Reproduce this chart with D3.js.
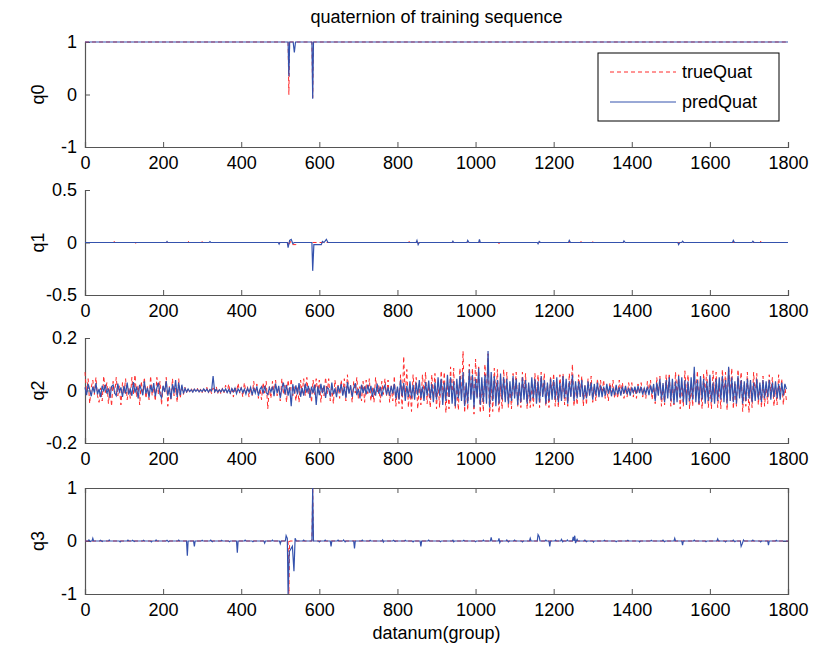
<!DOCTYPE html>
<html><head><meta charset="utf-8">
<script src="https://cdn.jsdelivr.net/npm/d3@7"></script>
<style>body{margin:0;background:#fff}svg{display:block}text{font-family:Arial,"Liberation Sans",sans-serif}</style>
</head><body>
<svg id="c" width="813" height="652"></svg>
<script>
// ---------- data ----------
const xTicks = [0,200,400,600,800,1000,1200,1400,1600,1800];
const panelNames = ["q0","q1","q2","q3"];
const yTicks = [[-1,0,1],[-0.5,0,0.5],[-0.2,0,0.2],[-1,0,1]];
const yTickLabels = [["-1","0","1"],["-0.5","0","0.5"],["-0.2","0","0.2"],["-1","0","1"]];
const legendLabels = ["trueQuat","predQuat"];

// sparse series: [index, value]
const q0True = [[0,1],[520,1],[522,0],[524,1],[581,1],[583,-0.06],[585,1],[1800,1]];
const q0Pred = [[0,1],[520,1],[522,0.35],[524,1],[533,1],[536,0.8],[539,1],[581,1],[583,-0.08],[585,1],[1800,1]];

const q1True = [[0,0],[74,0],[75,0.01],[76,0],[129,0],[130,-0.012],[131,0],[264,0],[265,0.01],[266,0],[299,0],[300,0.01],[301,0],[389,0],[390,-0.01],[391,0],[439,0],[440,0.01],[441,0],[520,0],[522,-0.03],[526,0.01],[530,-0.02],[540,-0.02],[545,0],[809,0],[810,0.01],[811,0],[829,0],[830,0.01],[831,0],[1059,0],[1060,-0.012],[1061,0],[1269,0],[1270,0.01],[1271,0],[1299,0],[1300,0.01],[1301,0],[1729,0],[1730,0.012],[1731,0],[1800,0]];
const q1Pred = [[0,0],[208,0],[210,0.01],[212,0],[318,0],[320,0.008],[322,0],[495,0],[497,-0.015],[499,0],[518,0],[520,-0.05],[524,0.02],[528,0.03],[532,-0.01],[536,0],[581,0],[583,-0.27],[586,-0.02],[605,-0.02],[608,0.01],[612,0],[618,0.03],[622,0],[848,0],[850,0.02],[853,-0.02],[856,0],[940,0],[942,0.012],[944,0],[978,0],[980,0.02],[983,0],[1008,0],[1010,0.03],[1012,0],[1158,0],[1160,-0.012],[1163,0.01],[1166,0],[1238,0],[1240,0.02],[1243,0],[1378,0],[1380,0.015],[1383,0],[1518,0],[1520,-0.02],[1523,0],[1528,0],[1530,0.012],[1533,0],[1658,0],[1660,0.02],[1663,0],[1708,0],[1710,0.012],[1713,0],[1800,0]];

// dense q2 series, one value every 4 indices starting at 0
const q2Step = 4;
const q2True = [
.07,-.01,.045,-.05,.012,.04,-.015,.05,-.02,-.045,.01,-.04,.055,-.008,.03,
-.05,.015,-.06,.035,-.012,.05,-.02,.018,-.055,.03,-.01,.045,-.035,.012,-.03,
.05,-.015,.06,-.025,.02,-.055,.035,-.01,.05,-.03,.015,-.035,.055,-.02,.012,
-.04,.05,-.015,.035,-.055,.02,-.01,.05,-.06,.015,-.035,.045,-.02,.01,-.045,
.045,-.03,.02,-.015,.012,-.01,.008,-.006,.01,-.008,.006,-.005,.008,-.01,.006,
-.008,.01,-.006,.012,-.01,.008,-.012,.01,-.008,.015,-.012,.008,-.014,.01,-.008,
.02,-.008,.025,-.012,.01,-.025,.015,-.006,.028,-.01,.012,-.025,.03,-.008,.015,
-.025,.01,-.02,.035,-.012,.025,-.03,.008,-.035,.03,-.01,.035,-.07,.015,-.03,
.035,-.012,.04,-.02,.01,-.04,.045,-.015,.02,-.045,.04,-.01,.045,-.02,.015,
-.04,.015,-.045,.04,-.01,.045,-.02,.05,-.015,.012,-.045,.04,-.015,.045,-.01,
.04,-.045,.015,-.02,.05,-.012,.045,-.04,.01,-.05,.04,-.015,.02,-.03,.04,
-.015,.045,-.04,.06,-.012,.02,-.045,.035,-.01,.05,-.03,.015,-.04,.035,-.045,
.04,-.012,.045,-.04,.015,-.045,.05,-.01,.02,-.045,.035,-.015,.045,-.02,.04,
-.045,.02,-.04,.055,-.06,.015,-.05,.06,-.07,.13,-.02,.08,-.065,.015,-.08,
.06,-.02,.05,-.07,.025,-.055,.06,-.015,.07,-.05,.02,-.065,.06,-.025,.065,
-.07,.03,-.065,.075,-.02,.07,-.085,.025,-.07,.09,-.03,.085,-.07,.02,-.075,
.085,-.03,.15,-.085,.025,-.075,.1,-.02,.085,-.09,.12,-.03,.09,-.085,.025,
-.08,.1,-.02,.14,-.1,.03,-.08,.085,-.025,.08,-.085,.02,-.07,.08,-.03,
.07,-.065,.02,-.07,.065,-.025,.07,-.06,.02,-.065,.07,-.015,.065,-.07,.02,
-.065,.02,-.06,.065,-.025,.06,-.065,.07,-.02,.065,-.06,.025,-.065,.055,-.02,
.065,-.06,.02,-.065,.06,-.025,.065,-.055,.02,-.06,.065,-.02,.1,-.06,.025,
-.055,.06,-.015,.055,-.06,.02,-.055,.045,-.015,.055,-.045,.015,-.04,.045,-.015,
.04,-.01,.04,-.03,.012,-.04,.03,-.01,.04,-.03,.01,-.03,.04,-.012,.03,
-.03,.01,-.025,.03,-.01,.03,-.025,.012,-.03,.025,-.01,.03,-.025,.01,-.03,
.035,-.01,.04,-.035,.015,-.05,.05,-.015,.055,-.06,.02,-.055,.06,-.02,.065,
-.06,.02,-.055,.07,-.02,.06,-.07,.025,-.06,.075,-.02,.06,-.07,.02,-.06,
.07,-.02,.075,-.06,.025,-.07,.065,-.02,.08,-.065,.025,-.07,.075,-.02,.07,
-.065,.02,-.07,.08,-.025,.07,-.075,.09,-.02,.085,-.07,.025,-.06,.08,-.02,
.07,-.08,.02,-.06,.07,-.085,.025,-.065,.07,-.02,.065,-.055,.02,-.065,.055,
-.06,.02,-.05,.06,-.015,.05,-.06,.015,-.055,.06,-.02,.045,-.055,.02,-.04];
const q2Pred = [
.012,-.018,.025,.004,-.022,.015,-.008,.028,-.015,.006,-.025,.018,-.004,.022,-.012,
.008,-.028,.015,.021,-.01,-.02,.026,-.005,.012,-.024,.018,-.012,.03,-.016,.005,
-.02,.032,-.008,.015,-.03,.022,.004,-.018,.035,-.012,.01,-.026,.02,-.006,.028,
-.022,.01,.03,-.015,-.028,.018,-.005,.036,-.02,.012,-.032,.024,-.01,.04,-.025,
.03,-.018,.022,-.012,.008,-.005,.006,-.004,.003,-.006,.005,-.003,.004,-.005,.002,
-.004,.006,-.003,.005,-.006,.004,-.002,.055,-.005,.004,-.006,.003,-.005,.006,-.004,
.006,-.008,.004,-.01,.007,-.005,.009,-.012,.006,-.004,.01,-.008,.005,-.014,.008,
-.006,.012,-.018,.008,-.01,.016,-.02,.005,.014,-.012,.018,-.008,-.016,.01,-.005,
.015,-.022,.026,-.01,.018,-.028,.008,.03,-.015,.022,-.02,.012,-.06,.024,-.012,
.02,-.015,.028,-.024,.01,-.02,.026,-.008,.018,-.028,.015,-.01,.022,-.055,.016,
-.018,.025,-.01,.02,-.028,.012,.006,-.022,.03,-.015,.008,-.025,.018,-.006,.024,
-.02,.015,-.028,.032,-.012,.02,-.024,.01,.028,-.018,.006,-.03,.022,-.01,.016,
-.015,.022,-.008,.018,-.024,.01,-.02,.026,-.012,.015,-.022,.008,.02,-.016,.012,
-.02,.018,-.012,.025,-.03,.015,-.035,.04,-.022,.028,-.04,.018,-.025,.035,-.03,
.022,-.035,.03,-.018,.04,-.028,.015,-.04,.032,-.02,.038,-.03,.025,-.045,.03,
-.035,.05,-.02,.045,-.055,.03,-.04,.06,-.025,.05,-.05,.035,-.06,.045,-.03,
.055,-.04,.07,-.06,.03,-.05,.08,-.035,.06,-.065,.045,-.03,.085,-.055,.05,
-.045,.06,-.05,.15,-.065,.07,-.04,.055,-.06,.04,-.05,.065,-.035,.05,-.045,
.045,-.05,.035,-.04,.055,-.03,.045,-.055,.03,-.045,.05,-.035,.04,-.05,.03,
-.04,.05,-.03,.045,-.05,.035,-.045,.055,-.025,.04,-.05,.03,-.04,.045,-.035,
.04,-.035,.05,-.045,.03,-.04,.055,-.03,.045,-.05,.035,-.025,.06,-.04,.035,
-.03,.035,-.025,.04,-.035,.02,-.03,.035,-.02,.03,-.035,.025,-.02,.03,-.025,
.02,-.025,.015,-.02,.025,-.012,.018,-.022,.01,-.018,.022,-.015,.012,-.02,.015,
-.012,.018,-.015,.01,-.02,.012,-.008,.015,-.012,.018,-.01,.014,-.016,.008,-.012,
.015,-.018,.02,-.012,.025,-.04,.03,-.02,.045,-.035,.028,-.045,.04,-.03,.05,
-.04,.045,-.05,.035,-.045,.055,-.03,.05,-.045,.04,-.055,.035,-.04,.05,-.035,
.09,-.045,.04,-.05,.055,-.035,.045,-.05,.035,-.04,.06,-.045,.03,-.05,.045,
-.04,.05,-.035,.055,-.045,.04,-.05,.09,-.04,.05,-.045,.035,-.05,.055,-.03,
.04,-.05,.035,-.04,.045,-.03,.04,-.045,.03,-.04,.045,-.035,.03,-.045,.04,
-.03,.035,-.025,.04,-.035,.03,-.025,.035,-.03,.025,-.035,.03,-.02,.025,.005];

const q3True = [[0,0],[520,0],[522,-1],[524,0],[581,0],[583,1],[585,0],[1800,0]];
const q3Pred = [[0,0],[8,0],[10,0.02],[14,-0.01],[16,0],[18,0],[20,0.05],[22,0],[38,0],[40,0.015],[44,-0.01],[46,0],[60,0],[62,0.02],[64,0],[88,0],[90,-0.015],[92,0],[108,0],[110,0.015],[112,0],[120,0],[122,0.015],[126,-0.01],[128,0],[148,0],[150,0.012],[152,0],[168,0],[170,-0.015],[172,0],[180,0],[182,0.02],[184,0],[208,0],[210,0.012],[214,-0.012],[216,0],[238,0],[240,0.015],[242,0],[260,0],[262,-0.28],[264,0],[278,0],[280,-0.1],[282,0],[298,0],[300,0.012],[302,0],[320,0],[322,0.015],[326,-0.012],[328,0],[348,0],[350,0.012],[352,0],[368,0],[370,-0.012],[372,0],[388,0],[390,-0.22],[392,0],[408,0],[410,0.015],[412,0],[428,0],[430,-0.012],[432,0],[458,0],[460,-0.04],[462,0],[478,0],[480,0.015],[482,0],[498,0],[500,-0.05],[502,0],[513,0],[515,0.1],[518,0.05],[520,-1],[523,-0.2],[527,-0.15],[531,-0.1],[535,-0.57],[538,0.05],[541,0],[558,0],[560,0.015],[562,0],[581,0],[583,1],[585,0],[598,0],[600,-0.015],[602,0],[613,0],[615,0.015],[617,0],[628,0],[630,-0.1],[632,0],[646,0],[648,0.015],[650,0],[660,0],[662,0.02],[666,-0.015],[668,0],[688,0],[690,-0.14],[692,0],[708,0],[710,0.015],[712,0],[728,0],[730,0.012],[732,0],[760,0],[762,0.02],[764,-0.02],[766,0],[788,0],[790,0.015],[794,-0.01],[796,0],[818,0],[820,0.012],[822,0],[838,0],[840,-0.015],[842,0],[858,0],[860,-0.1],[862,0],[878,0],[880,0.015],[882,0],[908,0],[910,-0.012],[912,0],[940,0],[942,0.015],[944,-0.015],[946,0],[968,0],[970,0.012],[972,0],[998,0],[1000,-0.012],[1002,0],[1018,0],[1020,0.015],[1022,0],[1038,0],[1040,0.07],[1042,0],[1058,0],[1060,0.05],[1062,-0.03],[1064,0],[1078,0],[1080,0.02],[1084,-0.015],[1086,0],[1098,0],[1100,0.015],[1102,0],[1118,0],[1120,-0.015],[1122,0],[1138,0],[1140,0.05],[1142,0],[1158,0],[1160,0.12],[1163,0.08],[1165,0],[1178,0],[1180,0.015],[1182,0],[1188,0],[1190,-0.1],[1192,0],[1203,0],[1205,0.015],[1207,0],[1218,0],[1220,0.03],[1223,-0.015],[1225,0],[1233,0],[1235,0.02],[1237,0],[1248,0],[1250,0.08],[1252,0],[1254,0.1],[1256,-0.04],[1258,0],[1260,0.03],[1262,0],[1278,0],[1280,0.015],[1284,-0.012],[1286,0],[1300,0],[1302,-0.02],[1304,0],[1328,0],[1330,0.012],[1332,0],[1358,0],[1360,-0.012],[1362,0],[1388,0],[1390,0.012],[1392,0],[1418,0],[1420,-0.015],[1422,0],[1448,0],[1450,0.012],[1452,0],[1478,0],[1480,0.015],[1484,-0.012],[1486,0],[1508,0],[1510,0.05],[1512,0],[1528,0],[1530,-0.08],[1532,0],[1558,0],[1560,0.015],[1562,0],[1588,0],[1590,-0.012],[1592,0],[1618,0],[1620,0.04],[1622,0],[1638,0],[1640,-0.015],[1642,0],[1658,0],[1660,0.015],[1664,-0.012],[1666,0],[1678,0],[1680,-0.1],[1683,-0.05],[1686,0.02],[1688,0],[1708,0],[1710,0.015],[1712,0],[1728,0],[1730,-0.015],[1732,0],[1748,0],[1750,-0.08],[1752,0],[1768,0],[1770,0.012],[1772,0],[1800,0]];

// ---------- layout ----------
const svg = d3.select("#c");
const X0 = 85, X1 = 788;
const panels = [{top:42,bottom:147},{top:190,bottom:295},{top:338,bottom:443},{top:488,bottom:594}];
const domains = [[-1,1],[-0.5,0.5],[-0.2,0.2],[-1,1]];
const RED = "#ff2a2a", BLUE = "#3452ad", AXC = "#555";
const FS = 18;
const x = d3.scaleLinear().domain([0,1800]).range([X0,X1]);

const q2TrueP = q2True.map((v,i)=>[i*q2Step,v]);
const q2PredP = q2Pred.map((v,i)=>[i*q2Step,v]);
const seriesTrue = [q0True,q1True,q2TrueP,q3True];
const seriesPred = [q0Pred,q1Pred,q2PredP,q3Pred];

panels.forEach((p,k)=>{
  const y = d3.scaleLinear().domain(domains[k]).range([p.bottom,p.top]);
  const g = svg.append("g");
  const line = d3.line().x(d=>x(d[0])).y(d=>y(Math.max(domains[k][0],Math.min(domains[k][1],d[1]))));
  const xa = d3.axisBottom(x).tickValues(xTicks).tickSize(-5).tickPadding(9).tickFormat(d3.format("d"));
  const gx = g.append("g").attr("transform",`translate(0,${p.bottom})`).call(xa);
  const ya = d3.axisLeft(y).tickValues(yTicks[k]).tickSize(-5).tickPadding(8).tickFormat((d,i)=>yTickLabels[k][i]);
  const gy = g.append("g").attr("transform",`translate(${X0},0)`).call(ya);
  [gx,gy].forEach(a=>{
    a.select(".domain").attr("stroke",AXC).attr("stroke-width",1.2);
    a.selectAll(".tick line").attr("stroke",AXC);
    a.selectAll("text").attr("font-size",FS).attr("fill","#000");
  });
  if(k===3){
    const xt = d3.axisTop(x).tickValues(xTicks).tickSize(-5).tickFormat("");
    const gt = g.append("g").attr("transform",`translate(0,${p.top})`).call(xt);
    const yr = d3.axisRight(y).tickValues(yTicks[k]).tickSize(-5).tickFormat("");
    const gr = g.append("g").attr("transform",`translate(${X1},0)`).call(yr);
    [gt,gr].forEach(a=>{a.select(".domain").attr("stroke",AXC).attr("stroke-width",1.2);a.selectAll(".tick line").attr("stroke",AXC);});
  }
  g.append("path").datum(seriesTrue[k]).attr("d",line).attr("fill","none")
    .attr("stroke",RED).attr("stroke-width",1).attr("stroke-dasharray","4,3");
  g.append("path").datum(seriesPred[k]).attr("d",line).attr("fill","none")
    .attr("stroke",BLUE).attr("stroke-width",1.2);
  svg.append("text").attr("transform",`translate(38,${(p.top+p.bottom)/2}) rotate(-90)`)
    .attr("text-anchor","middle").attr("dy","0.35em").attr("font-size",FS).text(panelNames[k]);
});

svg.append("text").attr("x",(X0+X1)/2).attr("y",23).attr("text-anchor","middle").attr("font-size",FS).text("quaternion of training sequence");
svg.append("text").attr("x",(X0+X1)/2).attr("y",639).attr("text-anchor","middle").attr("font-size",FS).text("datanum(group)");

// legend
const lg = svg.append("g");
lg.append("rect").attr("x",598).attr("y",53).attr("width",181).attr("height",68).attr("fill","#fff").attr("stroke","#000").attr("stroke-width",1);
[[RED,"4,3",72],[BLUE,null,102]].forEach((s,i)=>{
  lg.append("line").attr("x1",610).attr("x2",676).attr("y1",s[2]).attr("y2",s[2]).attr("stroke",s[0]).attr("stroke-width",1).attr("stroke-dasharray",s[1]);
  lg.append("text").attr("x",682).attr("y",s[2]).attr("dy","0.35em").attr("font-size",FS).text(legendLabels[i]);
});
</script>
</body></html>
